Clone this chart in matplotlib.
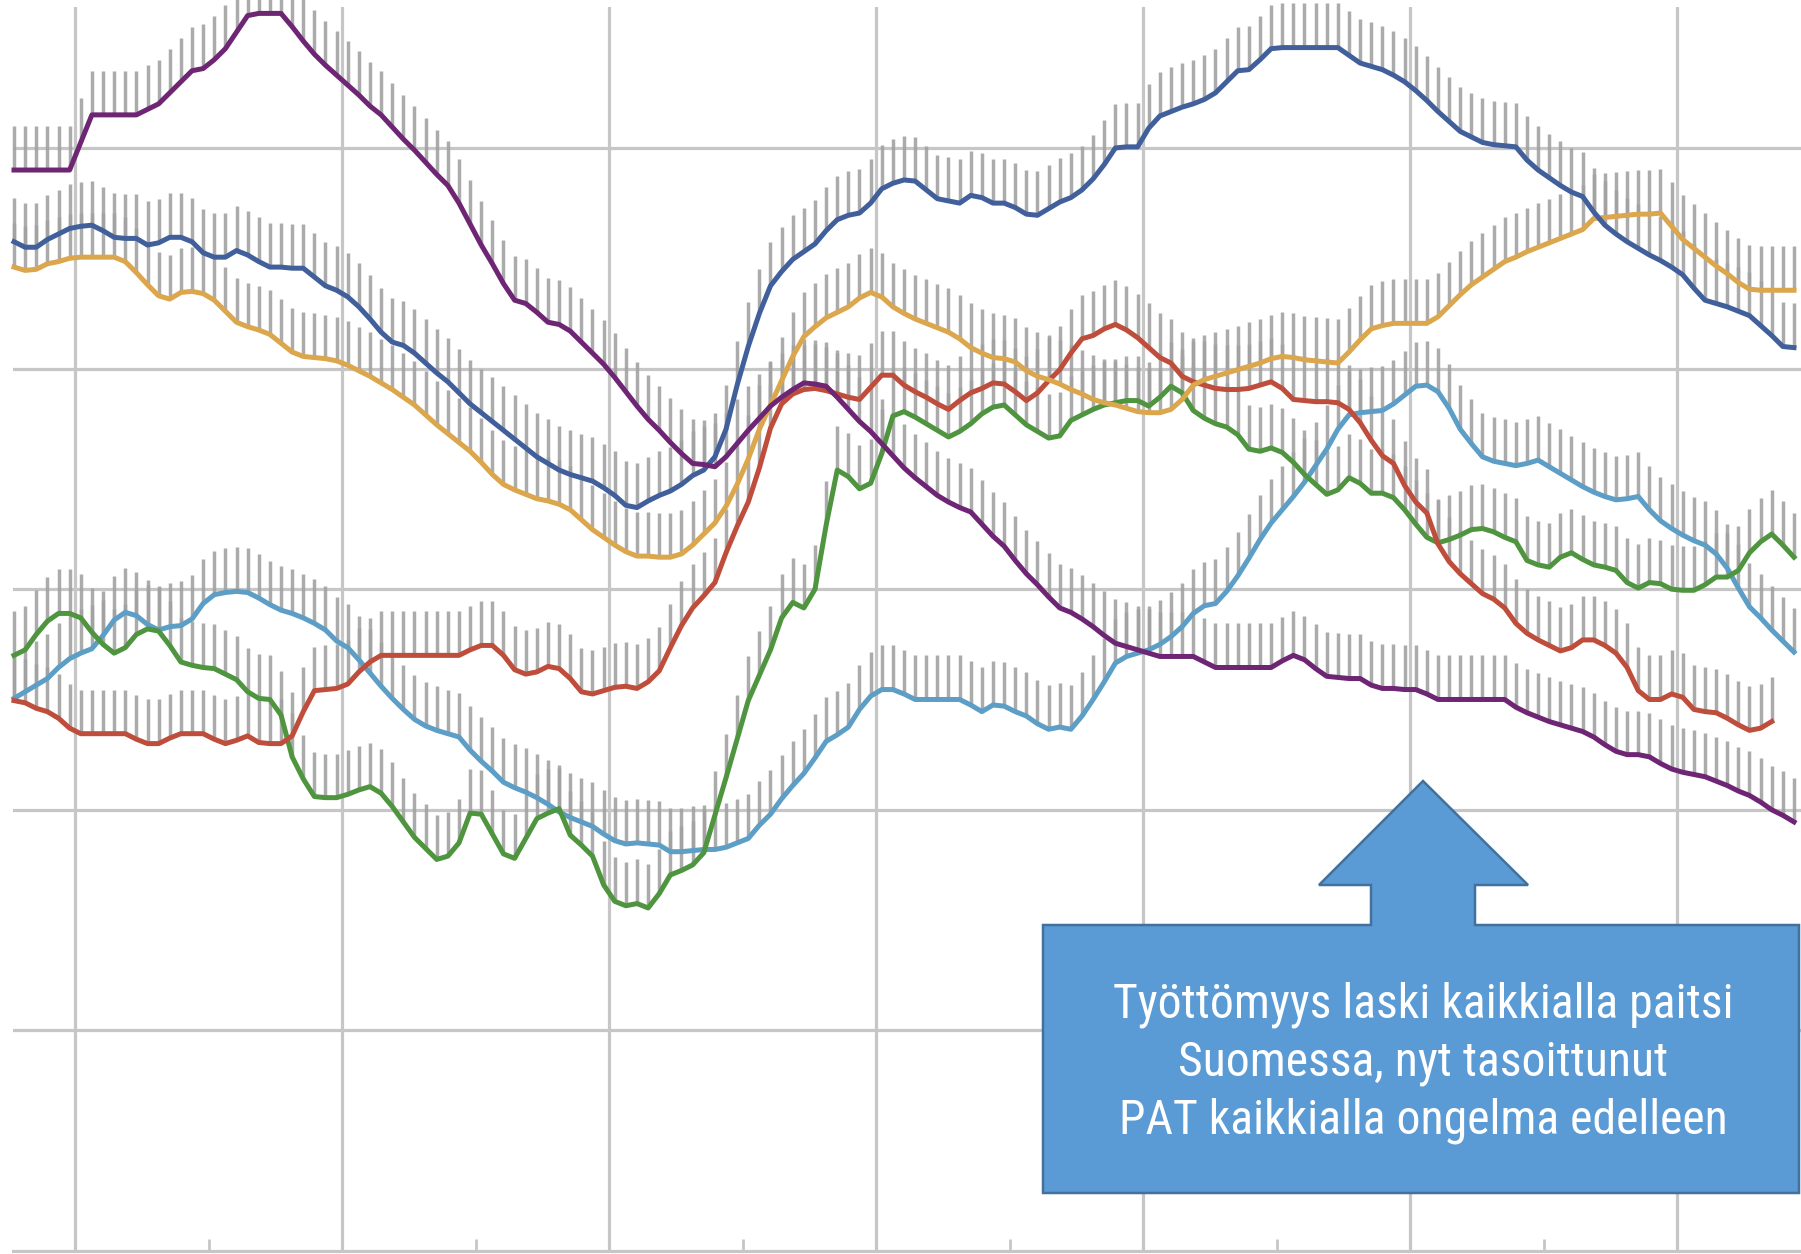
import numpy as np
import matplotlib
matplotlib.use("Agg")
import matplotlib.pyplot as plt
from matplotlib.patches import Polygon
from matplotlib import font_manager

# ---------------- data (monthly values) ----------------
purple = [9.80, 9.80, 9.80, 9.80, 9.80, 9.80, 10.05, 10.30, 10.30, 10.30, 10.30, 10.30,
          10.35, 10.40, 10.50, 10.60, 10.70, 10.72, 10.80, 10.90, 11.05, 11.20, 11.22, 11.22,
          11.22, 11.10, 10.97, 10.85, 10.75, 10.66, 10.57, 10.48, 10.38, 10.30, 10.19, 10.08,
          9.98, 9.87, 9.76, 9.66, 9.50, 9.31, 9.12, 8.95, 8.77, 8.62, 8.59, 8.51,
          8.42, 8.40, 8.34, 8.24, 8.14, 8.04, 7.92, 7.79, 7.66, 7.54, 7.44, 7.33,
          7.23, 7.14, 7.13, 7.11, 7.20, 7.32, 7.44, 7.55, 7.66, 7.74, 7.81, 7.87,
          7.86, 7.84, 7.74, 7.63, 7.52, 7.43, 7.32, 7.21, 7.10, 7.01, 6.93, 6.85,
          6.79, 6.74, 6.70, 6.59, 6.48, 6.39, 6.26, 6.14, 6.04, 5.93, 5.83, 5.79,
          5.73, 5.66, 5.58, 5.51, 5.48, 5.45, 5.42, 5.39, 5.39, 5.39, 5.39, 5.34,
          5.29, 5.29, 5.29, 5.29, 5.29, 5.29,
          5.35, 5.40, 5.36, 5.28, 5.21, 5.20, 5.19, 5.19, 5.13, 5.10, 5.10, 5.09, 5.09, 5.05, 5.00,
          5.00, 5.00, 5.00, 5.00, 5.00, 5.00,
          4.93, 4.88, 4.84, 4.80, 4.77, 4.74, 4.71, 4.66, 4.59, 4.53, 4.50, 4.50, 4.48,
          4.42, 4.37, 4.34, 4.32, 4.30, 4.26, 4.22, 4.17, 4.13, 4.07, 4.00, 3.95, 3.89]

dark_blue = [9.15, 9.10, 9.10, 9.17, 9.22, 9.27, 9.29, 9.30, 9.25, 9.19, 9.18, 9.18,
             9.12, 9.14, 9.19, 9.19, 9.15, 9.05, 9.01, 9.01, 9.07, 9.03, 8.97, 8.92,
             8.92, 8.91, 8.91, 8.83, 8.75, 8.71, 8.65, 8.56, 8.45, 8.33, 8.24, 8.21,
             8.14, 8.05, 7.96, 7.88, 7.78, 7.68, 7.60, 7.52, 7.44, 7.36, 7.28, 7.20,
             7.14, 7.08, 7.04, 7.01, 6.98, 6.92, 6.85, 6.76, 6.74, 6.80, 6.85, 6.89,
             6.95, 7.03, 7.08, 7.20, 7.45, 7.85, 8.20, 8.50, 8.75, 8.88, 8.99, 9.06,
             9.13, 9.25, 9.35, 9.39, 9.41, 9.50, 9.63, 9.68, 9.71, 9.70, 9.62, 9.54,
             9.52, 9.50, 9.57, 9.55, 9.50, 9.50, 9.46, 9.40, 9.39, 9.45, 9.51, 9.55,
             9.62, 9.72, 9.85, 10.00, 10.01, 10.01, 10.18, 10.29, 10.33, 10.37, 10.40, 10.44,
             10.50, 10.60, 10.70, 10.71, 10.80, 10.90,
             10.91, 10.91, 10.91, 10.91, 10.91, 10.91,
             10.84, 10.77, 10.74, 10.71, 10.66, 10.60, 10.52, 10.43, 10.33, 10.24, 10.15, 10.10,
             10.05, 10.03, 10.02, 10.01, 9.89, 9.80, 9.73, 9.66, 9.60, 9.56, 9.42, 9.30,
             9.22, 9.15, 9.09, 9.03, 8.98, 8.92, 8.85, 8.73, 8.62, 8.59, 8.56, 8.52,
             8.48, 8.39, 8.30, 8.20, 8.19]

gold = [8.92, 8.89, 8.90, 8.95, 8.97, 9.00, 9.01, 9.01, 9.01, 9.01, 8.97, 8.87,
        8.76, 8.66, 8.63, 8.69, 8.70, 8.68, 8.62, 8.52, 8.42, 8.38, 8.35, 8.31,
        8.23, 8.15, 8.11, 8.10, 8.09, 8.07, 8.03, 7.98, 7.93, 7.87, 7.81, 7.74,
        7.67, 7.58, 7.49, 7.41, 7.33, 7.25, 7.15, 7.04, 6.95, 6.90, 6.86, 6.82,
        6.80, 6.77, 6.72, 6.63, 6.54, 6.47, 6.40, 6.34, 6.30, 6.30, 6.29, 6.29,
        6.32, 6.40, 6.50, 6.60, 6.75, 6.95, 7.18, 7.45, 7.67, 7.89, 8.11, 8.29,
        8.38, 8.46, 8.51, 8.56, 8.64, 8.69, 8.65, 8.56, 8.50, 8.45, 8.41, 8.37,
        8.33, 8.27, 8.19, 8.14, 8.10, 8.09, 8.06, 7.98, 7.93, 7.90, 7.86, 7.81,
        7.77, 7.72, 7.69, 7.67, 7.64, 7.61, 7.60, 7.60, 7.63, 7.72, 7.85, 7.90,
        7.93, 7.96, 7.99, 8.02, 8.05, 8.09, 8.11, 8.10, 8.08, 8.07, 8.06, 8.05,
        8.15, 8.26, 8.36, 8.39, 8.41, 8.41, 8.41, 8.41, 8.47, 8.57, 8.67, 8.76,
        8.83, 8.90, 8.97, 9.01, 9.06, 9.10, 9.14, 9.18, 9.22, 9.26, 9.36, 9.37,
        9.38, 9.39, 9.40, 9.40, 9.41, 9.29, 9.17, 9.09, 9.01, 8.93, 8.86, 8.78,
        8.72, 8.71, 8.71, 8.71, 8.71]

red = [4.99, 4.97, 4.92, 4.89, 4.83, 4.74, 4.69, 4.69, 4.69, 4.69, 4.69, 4.64,
       4.60, 4.60, 4.65, 4.69, 4.69, 4.69, 4.64, 4.60, 4.63, 4.67, 4.61, 4.60,
       4.60, 4.67, 4.89, 5.08, 5.09, 5.10, 5.14, 5.25, 5.34, 5.40,
       5.40, 5.40, 5.40, 5.40, 5.40, 5.40, 5.40,
       5.45, 5.49, 5.49, 5.40, 5.27, 5.23, 5.25, 5.30, 5.28, 5.19, 5.07, 5.05,
       5.08, 5.11, 5.12, 5.10, 5.16, 5.26, 5.47, 5.67, 5.83, 5.94, 6.06, 6.33,
       6.57, 6.79, 7.10, 7.46, 7.68, 7.77, 7.81, 7.82, 7.80, 7.77, 7.74, 7.72,
       7.83, 7.94, 7.94, 7.85, 7.79, 7.74, 7.68, 7.63, 7.71, 7.78, 7.82, 7.87,
       7.86, 7.79, 7.71, 7.78, 7.89, 7.99, 8.14, 8.27, 8.30, 8.36, 8.40, 8.35,
       8.28, 8.19, 8.10, 8.05, 7.93, 7.88, 7.85, 7.82, 7.81, 7.81, 7.82, 7.85,
       7.88, 7.82, 7.72, 7.71, 7.70, 7.70, 7.69, 7.63, 7.51, 7.35, 7.21, 7.14,
       6.94, 6.79, 6.69, 6.41, 6.25, 6.14, 6.05, 5.96, 5.91, 5.83, 5.69, 5.60,
       5.54, 5.49, 5.44, 5.47, 5.54, 5.54, 5.49, 5.42, 5.29, 5.08, 5.00, 5.00,
       5.05, 5.02, 4.91, 4.89, 4.88, 4.83, 4.77, 4.72, 4.74, 4.80]

green = [5.40, 5.45, 5.59, 5.71, 5.78, 5.78, 5.74, 5.61, 5.50, 5.42, 5.47, 5.59,
         5.64, 5.62, 5.49, 5.34, 5.31, 5.29, 5.28, 5.23, 5.18, 5.07, 5.01, 5.00,
         4.86, 4.48, 4.28, 4.12, 4.11, 4.11, 4.14, 4.18, 4.21, 4.15, 4.03, 3.89,
         3.75, 3.65, 3.55, 3.58, 3.70, 3.97, 3.96, 3.78, 3.60, 3.56, 3.74, 3.92,
         3.97, 4.01, 3.77, 3.68, 3.58, 3.32, 3.17, 3.13, 3.15, 3.11, 3.24, 3.41,
         3.45, 3.50, 3.61, 3.95, 4.29, 4.64, 4.99, 5.22, 5.45, 5.74, 5.88, 5.83,
         6.00, 6.58, 7.08, 7.02, 6.91, 6.96, 7.23, 7.57, 7.61, 7.56, 7.50, 7.44,
         7.38, 7.43, 7.50, 7.59, 7.65, 7.67, 7.58, 7.49, 7.43, 7.37, 7.39, 7.53,
         7.58, 7.63, 7.67, 7.69, 7.71, 7.71, 7.66, 7.74, 7.84, 7.78, 7.62, 7.55,
         7.50, 7.47, 7.40, 7.27, 7.25, 7.28, 7.24, 7.15, 7.04, 6.95, 6.86, 6.90,
         7.01, 6.96, 6.87, 6.87, 6.83, 6.72, 6.59, 6.47, 6.42, 6.45, 6.49, 6.54,
         6.55, 6.52, 6.47, 6.43, 6.26, 6.22, 6.20, 6.29, 6.33, 6.27, 6.22, 6.20,
         6.17, 6.06, 6.01, 6.06, 6.05, 6.00, 5.99, 5.99, 6.04, 6.11, 6.11, 6.17,
         6.33, 6.43, 6.50, 6.40, 6.29]

light_blue = [5.01, 5.07, 5.13, 5.19, 5.29, 5.37, 5.42, 5.46, 5.58, 5.72, 5.79, 5.76,
              5.68, 5.63, 5.66, 5.67, 5.73, 5.87, 5.95, 5.97, 5.98, 5.97, 5.92, 5.86,
              5.81, 5.78, 5.74, 5.69, 5.63, 5.53, 5.47, 5.36, 5.24, 5.12, 5.01, 4.91,
              4.82, 4.76, 4.72, 4.69, 4.66, 4.54, 4.44, 4.35, 4.25, 4.20, 4.16, 4.11,
              4.05, 3.98, 3.93, 3.89, 3.85, 3.78, 3.72, 3.69, 3.70, 3.69, 3.68, 3.62,
              3.62, 3.63, 3.64, 3.64, 3.66, 3.70, 3.74, 3.86, 3.96, 4.10, 4.22, 4.33,
              4.47, 4.62, 4.68, 4.75, 4.91, 5.03, 5.09, 5.09, 5.05, 5.00, 5.00, 5.00,
              5.00, 5.00, 4.95, 4.89, 4.95, 4.94, 4.89, 4.85, 4.78, 4.73, 4.75, 4.73,
              4.85, 5.00, 5.16, 5.33, 5.39, 5.42, 5.45, 5.50, 5.57, 5.66, 5.78, 5.85,
              5.87, 5.98, 6.12, 6.28, 6.45, 6.60, 6.72, 6.84, 6.97, 7.12, 7.27, 7.45,
              7.58, 7.60, 7.61, 7.62, 7.68, 7.76, 7.84, 7.85, 7.79, 7.64, 7.45, 7.32,
              7.20, 7.16, 7.14, 7.12, 7.14, 7.17, 7.11, 7.05, 6.99, 6.93, 6.88, 6.84,
              6.81, 6.82, 6.84, 6.72, 6.62, 6.55, 6.49, 6.44, 6.40, 6.32, 6.19, 6.01,
              5.84, 5.74, 5.63, 5.53, 5.43]

series_colors = {
    "purple": "#6e2674",
    "dark_blue": "#41609b",
    "gold": "#dba64c",
    "red": "#bf4d3b",
    "green": "#4f953f",
    "light_blue": "#5d9ec6",
}
ERR_UP = 0.40                      # length of the grey "whisker" above each point
major_grid = [5.5, 29.5, 53.5, 77.5, 101.5, 125.5, 149.5]
minor_grid = [17.5, 41.5, 65.5, 89.5, 113.5, 137.5]
y_grid = [2, 4, 6, 8, 10]

callout_lines = ["Työttömyys laski kaikkialla paitsi",
                 "Suomessa, nyt tasoittunut",
                 "PAT kaikkialla ongelma edelleen"]

# ---------------- figure ----------------
W, H = 1801, 1254
DPI = 100
fig = plt.figure(figsize=(W / DPI, H / DPI), dpi=DPI)
fig.patch.set_facecolor("white")

def fx(px):
    return px / W

def fy(py):          # py measured from top
    return 1 - py / H

ax = fig.add_axes([fx(13), 3 / H, 1 - fx(13), (H - 3 - 7) / H])
ax.set_xlim(-0.09, 160.63)
ax.set_ylim(0, 11.278)
ax.set_facecolor("white")

grid_c = "#c6c6c6"
for s in ("left", "right", "top"):
    ax.spines[s].set_visible(False)
ax.spines["bottom"].set_color(grid_c)
ax.spines["bottom"].set_linewidth(2.3)

ax.set_xticks(major_grid)
ax.set_xticks(minor_grid, minor=True)
ax.set_yticks(y_grid)
ax.tick_params(axis="x", which="major", length=0, labelbottom=False)
ax.tick_params(axis="x", which="minor", length=9, width=2.0, direction="in",
               color=grid_c, labelbottom=False)
ax.tick_params(axis="y", which="both", length=0, labelleft=False)
ax.grid(True, which="major", axis="both", color=grid_c, linewidth=2.3, zorder=0)
ax.set_axisbelow(True)

order = [("light_blue", light_blue), ("green", green), ("red", red),
         ("gold", gold), ("dark_blue", dark_blue), ("purple", purple)]
for k, (name, vals) in enumerate(order):
    y = np.asarray(vals, dtype=float)
    x = np.arange(len(y))
    eb = ax.errorbar(x, y, yerr=[np.zeros_like(y), np.full_like(y, ERR_UP)],
                     fmt="none", ecolor="#a2a2a2", elinewidth=2.5, capsize=0,
                     alpha=0.9, zorder=2)
    for c in eb.lines[2]:
        c.set_clip_on(False)
for k, (name, vals) in enumerate(order):
    y = np.asarray(vals, dtype=float)
    x = np.arange(len(y))
    ax.plot(x, y, color=series_colors[name], linewidth=3.6, zorder=3 + k,
            solid_joinstyle="round", clip_on=False)

# ---------------- up-arrow callout ----------------
pts_px = [(1043, 925), (1371, 925), (1371, 885), (1319, 885), (1423, 781),
          (1528, 885), (1475, 885), (1475, 925), (1799, 925), (1799, 1193),
          (1043, 1193)]
poly = Polygon([(fx(a), fy(b)) for a, b in pts_px], closed=True,
               transform=fig.transFigure, facecolor="#5b9bd5",
               edgecolor="#41719c", linewidth=1.8, zorder=20)
fig.add_artist(poly)

avail = {f.name for f in font_manager.fontManager.ttflist}
family = None
for cand in ["Liberation Sans Narrow", "Roboto Condensed", "Open Sans", "Lato", "DejaVu Sans"]:
    if cand in avail:
        family = cand
        break

baselines = [1017, 1075, 1133]
target_w = 621.0
fs = 33
renderer = fig.canvas.get_renderer()
probe = fig.text(0, 0, callout_lines[0], fontsize=fs, family=family)
wpx = probe.get_window_extent(renderer=renderer).width
probe.remove()
fs = fs * target_w / wpx
for line, b in zip(callout_lines, baselines):
    fig.text(fx(1423), fy(b), line, ha="center", va="baseline", color="white",
             fontsize=fs, family=family, zorder=21)

fig.savefig("out.png", dpi=DPI, facecolor="white")
